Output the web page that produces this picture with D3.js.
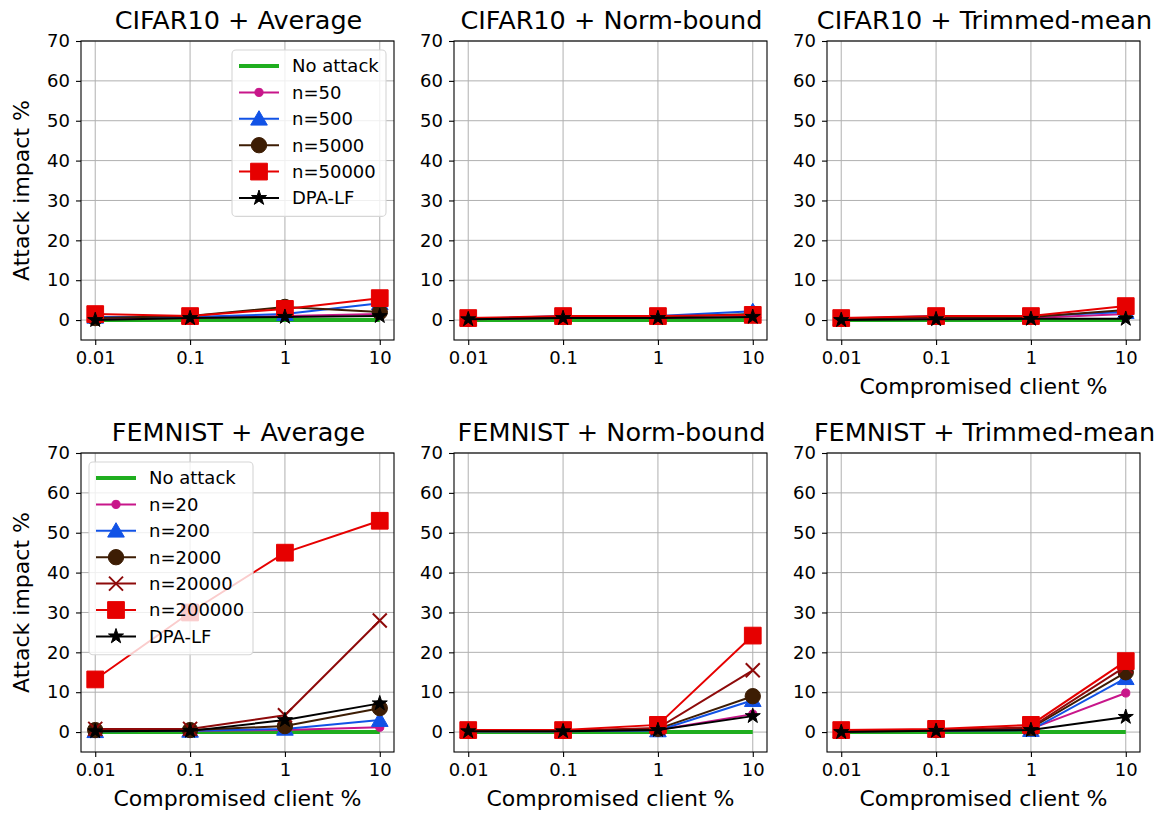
<!DOCTYPE html>
<html>
<head>
<meta charset="utf-8">
<script src="https://cdn.jsdelivr.net/npm/d3@7"></script>
<style>
  body { margin: 0; background: #fff; }
  svg { font-family: "DejaVu Sans", sans-serif; }
</style>
</head>
<body>
<svg id="chart" width="1158" height="815"></svg>
<script>
// x values and tick labels
const xValues = [0.01, 0.1, 1, 10];
const xTickLabels = ["0.01", "0.1", "1", "10"];
const yTicks = [0, 10, 20, 30, 40, 50, 60, 70];

// series names
const cifarSeries = ["No attack", "n=50", "n=500", "n=5000", "n=50000", "DPA-LF"];
const femnistSeries = ["No attack", "n=20", "n=200", "n=2000", "n=20000", "n=200000", "DPA-LF"];
const cifarKinds = ["none", "dot", "tri", "circ", "sq", "star"];
const femnistKinds = ["none", "dot", "tri", "circ", "x", "sq", "star"];

// values, one row per series
const cifarAverage = [
  [0, 0, 0, 0],
  [0.3, 0.5, 1, 1.5],
  [0.8, 0.8, 1.5, 4.2],
  [0.5, 1, 3.3, 2],
  [1.5, 1, 2.8, 5.5],
  [0, 0.5, 0.8, 1]
];
const cifarNormBound = [
  [0, 0, 0, 0],
  [0.2, 0.5, 0.5, 0.8],
  [0.3, 1, 1, 2.2],
  [0.3, 0.8, 0.8, 1.5],
  [0.5, 1, 1, 1.3],
  [0.2, 0.5, 0.5, 0.8]
];
const cifarTrimmed = [
  [0, 0, 0, 0],
  [0.2, 0.5, 0.5, 1.5],
  [0.3, 1, 1, 2],
  [0.3, 0.8, 0.8, 2.5],
  [0.5, 1, 1, 3.5],
  [0, 0.2, 0.3, 0.3]
];
const femnistAverage = [
  [0, 0, 0, 0],
  [0.3, 0.3, 0.5, 1.2],
  [0.2, 0.3, 0.8, 3],
  [0.5, 0.5, 1.5, 6],
  [0.8, 0.8, 4.2, 28],
  [13.2, 30, 45, 53],
  [0.2, 0.3, 3, 7.2]
];
const femnistNormBound = [
  [0, 0, 0, 0],
  [0.2, 0.2, 0.5, 4.5],
  [0.2, 0.2, 0.4, 8],
  [0.3, 0.3, 0.8, 9],
  [0.3, 0.3, 1, 15.5],
  [0.5, 0.5, 1.8, 24.2],
  [0.2, 0.2, 0.5, 4]
];
const femnistTrimmed = [
  [0, 0, 0, 0],
  [0.2, 0.3, 0.8, 9.8],
  [0.2, 0.3, 0.5, 13.5],
  [0.3, 0.5, 1, 15],
  [0.3, 0.5, 1.2, 16.5],
  [0.5, 0.8, 1.8, 17.8],
  [0, 0.3, 0.5, 3.8]
];

// styles per marker kind
const styles = {
  none: { color: "#1fae1f", width: 4 },
  dot:  { color: "#c8168a", width: 2 },
  tri:  { color: "#1152e6", width: 2 },
  circ: { color: "#3d1d04", width: 2 },
  x:    { color: "#8e0a0a", width: 2 },
  sq:   { color: "#e60000", width: 2 },
  star: { color: "#000000", width: 2 }
};

const svg = d3.select("#chart");
const W = 313, H = 299;
const colLeft = [81, 454, 827];
const rowTop = [41, 453];
const font = "DejaVu Sans";

const panels = [
  { title: "CIFAR10 + Average", data: cifarAverage, names: cifarSeries, kinds: cifarKinds, r: 0, c: 0, legend: "right", ylab: true },
  { title: "CIFAR10 + Norm-bound", data: cifarNormBound, names: cifarSeries, kinds: cifarKinds, r: 0, c: 1 },
  { title: "CIFAR10 + Trimmed-mean", data: cifarTrimmed, names: cifarSeries, kinds: cifarKinds, r: 0, c: 2, xlab: true },
  { title: "FEMNIST + Average", data: femnistAverage, names: femnistSeries, kinds: femnistKinds, r: 1, c: 0, legend: "left", ylab: true, xlab: true },
  { title: "FEMNIST + Norm-bound", data: femnistNormBound, names: femnistSeries, kinds: femnistKinds, r: 1, c: 1, xlab: true },
  { title: "FEMNIST + Trimmed-mean", data: femnistTrimmed, names: femnistSeries, kinds: femnistKinds, r: 1, c: 2, xlab: true }
];

function drawMarker(g, kind, cx, cy) {
  const col = styles[kind].color;
  if (kind === "none") return;
  if (kind === "x") {
    const s = 7;
    g.append("path")
      .attr("d", `M${cx - s},${cy - s}L${cx + s},${cy + s}M${cx - s},${cy + s}L${cx + s},${cy - s}`)
      .attr("stroke", col).attr("stroke-width", 2).attr("fill", "none");
    return;
  }
  let sym, size;
  if (kind === "dot") { sym = d3.symbolCircle; size = 52; }
  if (kind === "circ") { sym = d3.symbolCircle; size = 185; }
  if (kind === "tri") { sym = d3.symbolTriangle; size = 120; }
  if (kind === "sq") { sym = d3.symbolSquare; size = 280; }
  if (kind === "star") { sym = d3.symbolStar; size = 70; }
  g.append("path")
    .attr("d", d3.symbol().type(sym).size(size)())
    .attr("transform", `translate(${cx},${cy + (kind === "tri" ? 1.5 : 0)})`)
    .attr("fill", col)
    .attr("stroke", col).attr("stroke-width", 1);
}

panels.forEach(p => {
  const left = colLeft[p.c], top = rowTop[p.r];
  const g = svg.append("g");

  const x = d3.scaleLog()
    .domain([Math.pow(10, -2.15), Math.pow(10, 1.15)])
    .range([left, left + W]);
  const y = d3.scaleLinear()
    .domain([-5, 70])
    .range([top + H, top]);

  // grid
  g.append("g").selectAll("line").data(xValues).enter().append("line")
    .attr("x1", d => x(d)).attr("x2", d => x(d))
    .attr("y1", top).attr("y2", top + H)
    .attr("stroke", "#b0b0b0").attr("stroke-width", 1);
  g.append("g").selectAll("line").data(yTicks).enter().append("line")
    .attr("x1", left).attr("x2", left + W)
    .attr("y1", d => y(d)).attr("y2", d => y(d))
    .attr("stroke", "#b0b0b0").attr("stroke-width", 1);

  // axes
  const xAxis = g.append("g")
    .attr("transform", `translate(0,${top + H})`)
    .call(d3.axisBottom(x).tickValues(xValues).tickFormat((d, i) => xTickLabels[i]).tickSize(5).tickPadding(6));
  const yAxis = g.append("g")
    .attr("transform", `translate(${left},0)`)
    .call(d3.axisLeft(y).tickValues(yTicks).tickSize(5).tickPadding(6));
  [xAxis, yAxis].forEach(a => {
    a.select(".domain").remove();
    a.selectAll("text").attr("font-family", font).attr("font-size", 18).attr("fill", "#000");
    a.selectAll("line").attr("stroke", "#000").attr("stroke-width", 1.1);
  });

  // lines + markers
  const line = d3.line().x((d, i) => x(xValues[i])).y(d => y(d));
  p.data.forEach((vals, si) => {
    const kind = p.kinds[si];
    const st = styles[kind];
    const sg = g.append("g");
    sg.append("path")
      .attr("d", line(vals))
      .attr("fill", "none")
      .attr("stroke", st.color)
      .attr("stroke-width", st.width);
    vals.forEach((v, i) => drawMarker(sg, kind, x(xValues[i]), y(v)));
  });

  // frame
  g.append("rect")
    .attr("x", left).attr("y", top).attr("width", W).attr("height", H)
    .attr("fill", "none").attr("stroke", "#000").attr("stroke-width", 1.1);

  // title
  g.append("text")
    .attr("x", left + W / 2 + 1).attr("y", top - 12)
    .attr("text-anchor", "middle")
    .attr("font-family", font).attr("font-size", 25.5)
    .text(p.title);

  if (p.ylab) {
    g.append("text")
      .attr("transform", `translate(29,${top + H / 2}) rotate(-90)`)
      .attr("text-anchor", "middle")
      .attr("font-family", font).attr("font-size", 22)
      .text("Attack impact %");
  }
  if (p.xlab) {
    g.append("text")
      .attr("x", left + W / 2).attr("y", top + H + 54)
      .attr("text-anchor", "middle")
      .attr("font-family", font).attr("font-size", 22)
      .text("Compromised client %");
  }

  // legend
  if (p.legend) {
    const rowH = 26.4;
    const lw = p.legend === "right" ? 154 : 164;
    const lh = p.names.length * rowH + 8;
    const lx = p.legend === "right" ? left + W - 8 - lw : left + 8;
    const ly = top + 9;
    const lg = g.append("g");
    lg.append("rect")
      .attr("x", lx).attr("y", ly).attr("width", lw).attr("height", lh)
      .attr("rx", 4).attr("ry", 4)
      .attr("fill", "#fff").attr("fill-opacity", 0.8)
      .attr("stroke", "#d6d6d6").attr("stroke-width", 1.1);
    p.names.forEach((name, i) => {
      const kind = p.kinds[i];
      const cy = ly + 16 + i * rowH;
      const hx = lx + 7;
      lg.append("line")
        .attr("x1", hx).attr("x2", hx + 40)
        .attr("y1", cy).attr("y2", cy)
        .attr("stroke", styles[kind].color)
        .attr("stroke-width", styles[kind].width);
      drawMarker(lg, kind, hx + 20, cy);
      lg.append("text")
        .attr("x", hx + 53).attr("y", cy)
        .attr("dy", "0.35em")
        .attr("font-family", font).attr("font-size", 18)
        .text(name);
    });
  }
});
</script>
</body>
</html>
